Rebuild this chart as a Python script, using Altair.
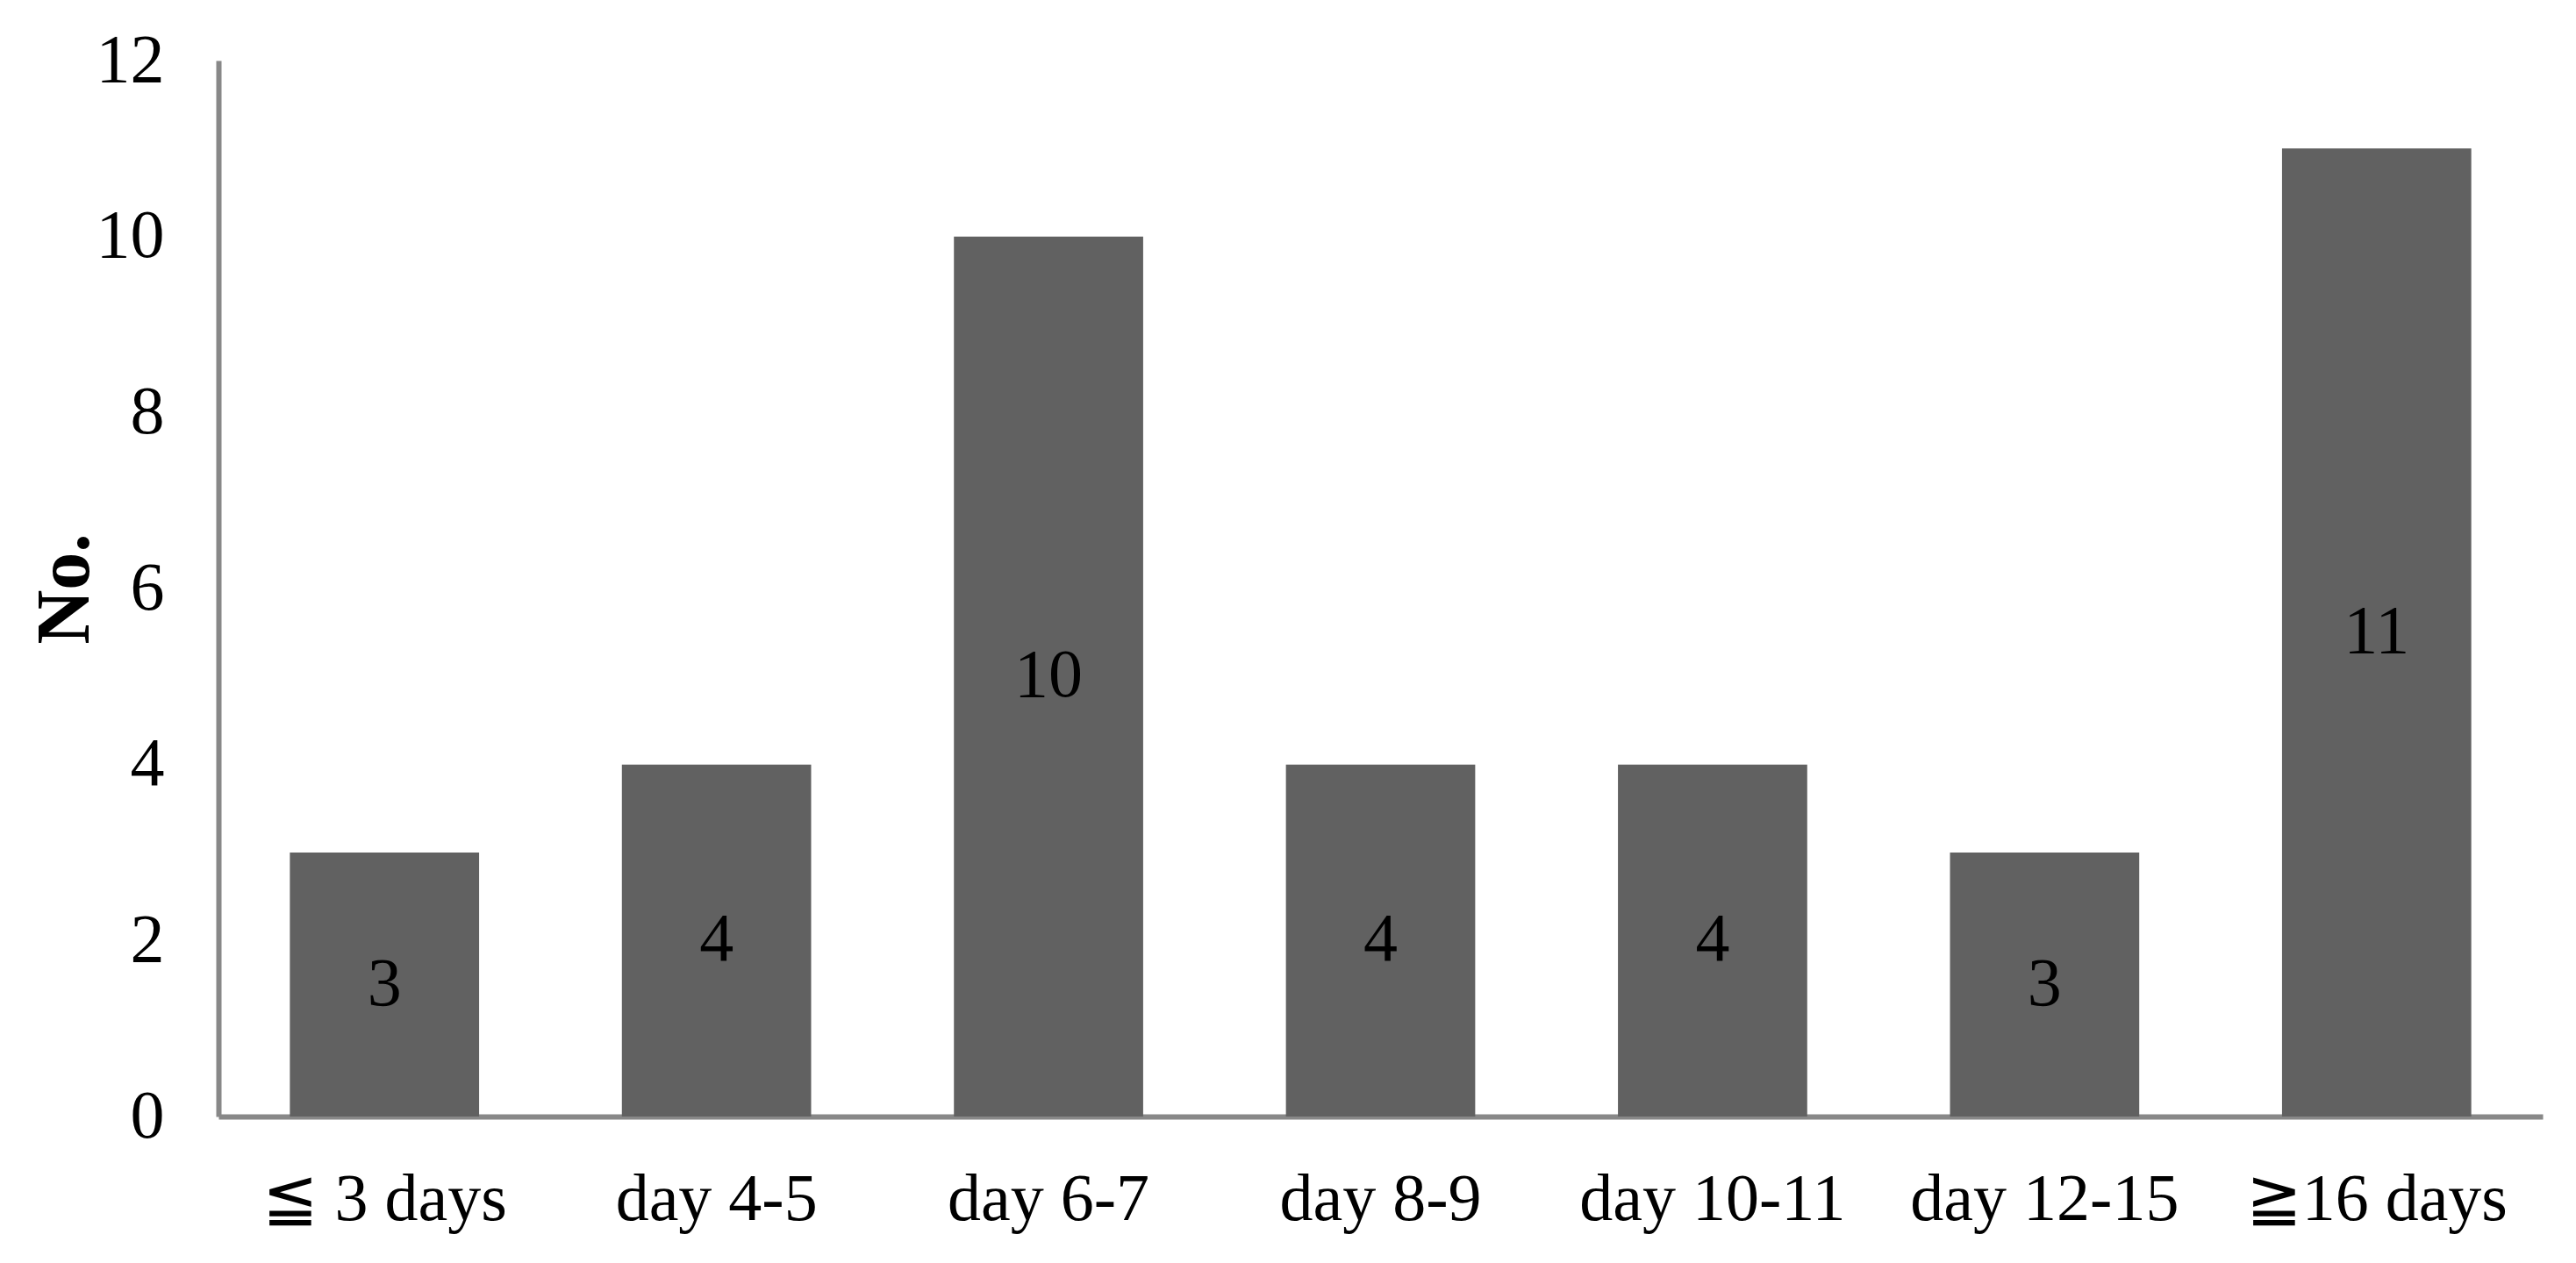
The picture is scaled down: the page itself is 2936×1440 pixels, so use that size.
import altair as alt
import pandas as pd

categories = ["≦ 3 days", "day 4-5", "day 6-7", "day 8-9", "day 10-11", "day 12-15", "≧16 days"]
counts = [3, 4, 10, 4, 4, 3, 11]
y_ticks = [0, 2, 4, 6, 8, 10, 12]

df = pd.DataFrame({"cat": categories, "n": counts})
df["mid"] = df["n"] / 2

FONT = "Liberation Serif"
AXIS_COLOR = "#888888"
BAR_COLOR = "#616161"

x_enc = alt.X(
    "cat:N",
    sort=categories,
    scale=alt.Scale(paddingInner=0.43, paddingOuter=0.215),
    axis=alt.Axis(
        title=None,
        labelAngle=0,
        labelFont=FONT,
        labelFontSize=76,
        labelColor="black",
        labelBaseline="alphabetic",
        labelPadding=117,
        labelLimit=0,
        labelOverlap=False,
        ticks=False,
        tickSize=0,
        domainColor=AXIS_COLOR,
        domainWidth=6,
        grid=False,
    ),
)

bars = alt.Chart(df).mark_bar(color=BAR_COLOR).encode(
    x=x_enc,
    y=alt.Y(
        "n:Q",
        scale=alt.Scale(domain=[0, 12], nice=False, zero=True),
        axis=alt.Axis(
            title="No.",
            titleFont=FONT,
            titleFontSize=86,
            titleFontWeight="bold",
            titleColor="black",
            titleAngle=270,
            titleAlign="center",
            titleBaseline="alphabetic",
            titleX=-149,
            titleY=602,
            values=y_ticks,
            format="d",
            labelFont=FONT,
            labelFontSize=78,
            labelColor="black",
            labelPadding=62,
            labelOverlap=False,
            ticks=False,
            tickSize=0,
            domainColor=AXIS_COLOR,
            domainWidth=6,
            grid=False,
        ),
    ),
)

labels = alt.Chart(df).mark_text(
    font=FONT, fontSize=78, color="black", baseline="middle", align="center"
).encode(
    x=alt.X("cat:N", sort=categories),
    y=alt.Y("mid:Q"),
    text=alt.Text("n:Q"),
)

chart = (
    alt.layer(bars, labels)
    .properties(
        width=2649,
        height=1204,
        autosize=alt.AutoSizeParams(type="none"),
        padding={"left": 241, "top": 61, "right": 30, "bottom": 150},
        view=alt.ViewBackground(strokeOpacity=0, strokeWidth=0, stroke="white"),
    )
    .configure_view(stroke="white", strokeWidth=0, strokeOpacity=0)
    .configure(background="white")
)

chart.save("out.html", embed_options={"renderer": "svg", "actions": False})
